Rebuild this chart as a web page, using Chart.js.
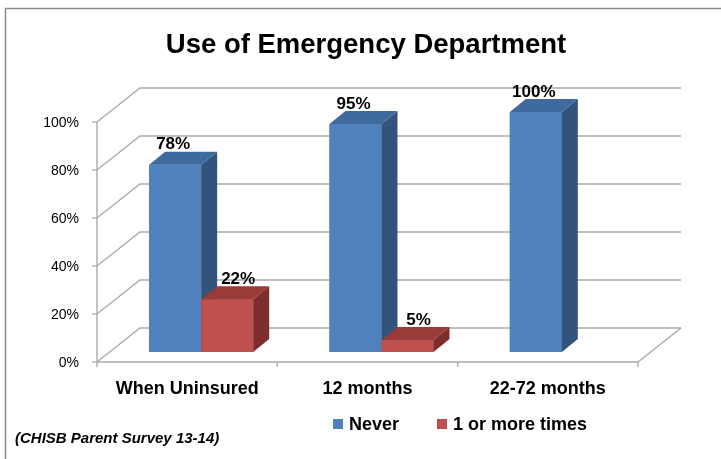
<!DOCTYPE html>
<html>
<head>
<meta charset="utf-8">
<script src="https://cdn.jsdelivr.net/npm/chart.js@4/dist/chart.umd.min.js"></script>
<style>
  html, body { margin: 0; padding: 0; background: #fff; }
  canvas { display: block; }
</style>
</head>
<body>
<canvas id="c" width="721" height="459"></canvas>
<script>
const categories = ["When Uninsured", "12 months", "22-72 months"];
const neverValues = [78, 95, 100];
const onceOrMoreValues = [22, 5, null];
const seriesNames = ["Never", "1 or more times"];
const yTicks = [0, 20, 40, 60, 80, 100];
const titleText = "Use of Emergency Department";
const sourceText = "(CHISB Parent Survey 13-14)";

const FONT = "'Liberation Sans', Arial, sans-serif";
// oblique offsets: bar plane vs front axis, full floor depth, bar depth
const barShift = { x: 14, y: -10 };
const wallDepth = { x: 43, y: -34 };
const barDepth = { x: 16, y: -13 };
const faces = [
  { front: "#4F81BD", top: "#3E6A9E", side: "#34537C" },
  { front: "#C0504D", top: "#983B39", side: "#7D2E2C" },
];
const labelNudge = [-2, 11];

const shade3d = {
  id: "shade3d",
  beforeDraw(chart) {
    const ctx = chart.ctx;
    const { left, right, top, bottom } = chart.chartArea;
    const y = chart.scales.y;
    const x = chart.scales.x;
    ctx.save();
    ctx.fillStyle = "#fff";
    ctx.fillRect(0, 0, chart.width, chart.height);
    // frame
    ctx.strokeStyle = "#8a8a8a";
    ctx.lineWidth = 1.5;
    ctx.beginPath();
    ctx.moveTo(5.5, chart.height);
    ctx.lineTo(5.5, 8.5);
    ctx.lineTo(chart.width, 8.5);
    ctx.stroke();

    // walls / gridlines
    ctx.strokeStyle = "#ababab";
    ctx.lineWidth = 1.4;
    for (const t of yTicks) {
      const py = y.getPixelForValue(t);
      ctx.beginPath();
      ctx.moveTo(left, py);
      ctx.lineTo(left + wallDepth.x, py + wallDepth.y);
      ctx.lineTo(right + wallDepth.x, py + wallDepth.y);
      ctx.stroke();
      ctx.beginPath();
      ctx.moveTo(left - 5, py);
      ctx.lineTo(left, py);
      ctx.stroke();
    }
    ctx.beginPath();
    ctx.moveTo(left, top);
    ctx.lineTo(left, bottom);
    ctx.lineTo(right, bottom);
    ctx.lineTo(right + wallDepth.x, bottom + wallDepth.y);
    ctx.stroke();
    const step = (right - left) / categories.length;
    for (let i = 0; i <= categories.length; i++) {
      const px = left + step * i;
      ctx.beginPath();
      ctx.moveTo(px, bottom);
      ctx.lineTo(px, bottom + 5);
      ctx.stroke();
    }

    // y tick labels
    ctx.fillStyle = "#000";
    ctx.font = "14px " + FONT;
    ctx.textAlign = "right";
    ctx.textBaseline = "middle";
    for (const t of yTicks) ctx.fillText(t + "%", left - 18, y.getPixelForValue(t) + 1);

    // category labels
    ctx.font = "bold 18px " + FONT;
    ctx.textAlign = "center";
    categories.forEach((c, i) => ctx.fillText(c, x.getPixelForValue(i), 389));

    // title
    ctx.font = "bold 27.5px " + FONT;
    ctx.fillText(titleText, 366, 45);

    // legend
    ctx.font = "bold 18px " + FONT;
    ctx.textAlign = "left";
    const legendX = [333, 437];
    seriesNames.forEach((n, i) => {
      ctx.fillStyle = faces[i].front;
      ctx.fillRect(legendX[i], 419, 10, 10);
      ctx.fillStyle = "#000";
      ctx.fillText(n, legendX[i] + 16, 425);
    });

    // source note
    ctx.font = "italic bold 15px " + FONT;
    ctx.fillText(sourceText, 15, 439);
    ctx.restore();
  },
  beforeDatasetsDraw(chart) {
    chart.ctx.save();
    chart.ctx.translate(barShift.x, barShift.y);
  },
  afterDatasetsDraw(chart) {
    const ctx = chart.ctx;
    // chart.js paints datasets last-to-first, so repaint left-to-right with depth faces
    chart.data.datasets.forEach((ds, di) => {
      const f = faces[di];
      chart.getDatasetMeta(di).data.forEach((bar, i) => {
        if (ds.data[i] == null) return;
        const { x, y, base, width } = bar.getProps(["x", "y", "base", "width"], true);
        const l = x - width / 2, r = x + width / 2;
        bar.draw(ctx);
        ctx.fillStyle = f.side;
        ctx.beginPath();
        ctx.moveTo(r, base);
        ctx.lineTo(r + barDepth.x, base + barDepth.y);
        ctx.lineTo(r + barDepth.x, y + barDepth.y);
        ctx.lineTo(r, y);
        ctx.closePath();
        ctx.fill();
        ctx.fillStyle = f.top;
        ctx.beginPath();
        ctx.moveTo(l, y);
        ctx.lineTo(l + barDepth.x, y + barDepth.y);
        ctx.lineTo(r + barDepth.x, y + barDepth.y);
        ctx.lineTo(r, y);
        ctx.closePath();
        ctx.fill();
      });
    });

    ctx.fillStyle = "#000";
    ctx.font = "bold 17px " + FONT;
    ctx.textAlign = "center";
    ctx.textBaseline = "middle";
    chart.data.datasets.forEach((ds, di) => {
      chart.getDatasetMeta(di).data.forEach((bar, i) => {
        const v = ds.data[i];
        if (v == null) return;
        ctx.fillText(v + "%", bar.x + labelNudge[di], bar.y - 20);
      });
    });
    ctx.restore();
  },
};

new Chart(document.getElementById("c"), {
  type: "bar",
  data: {
    labels: categories,
    datasets: [
      { label: seriesNames[0], data: neverValues, backgroundColor: faces[0].front },
      { label: seriesNames[1], data: onceOrMoreValues, backgroundColor: faces[1].front },
    ],
  },
  options: {
    responsive: false,
    animation: false,
    layout: { padding: { left: 97, right: 83, top: 122, bottom: 97 } },
    datasets: { bar: { categoryPercentage: 0.577, barPercentage: 1 } },
    scales: {
      x: { display: false },
      y: { display: false, min: 0, max: 100 },
    },
    plugins: { legend: { display: false }, title: { display: false }, tooltip: { enabled: false } },
  },
  plugins: [shade3d],
});
</script>
</body>
</html>
